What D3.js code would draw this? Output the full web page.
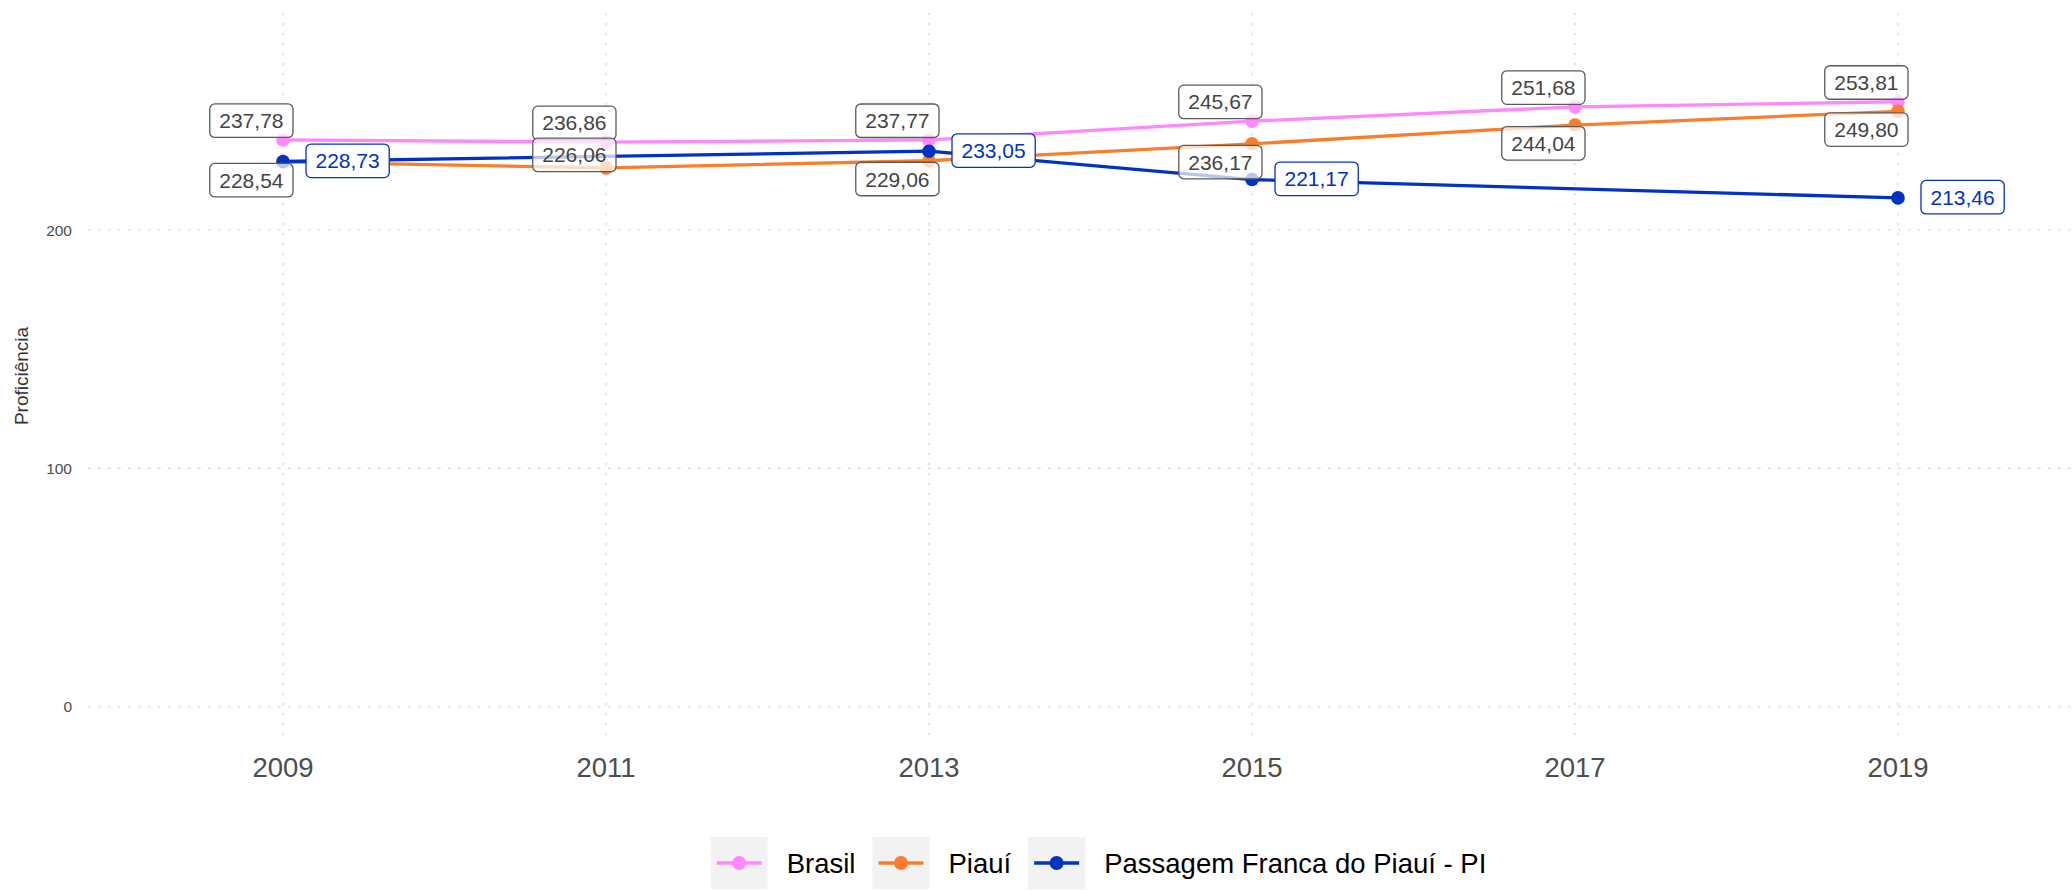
<!DOCTYPE html>
<html>
<head>
<meta charset="utf-8">
<script src="https://cdn.jsdelivr.net/npm/d3@7"></script>
<style>
  html, body { margin: 0; padding: 0; background: #ffffff; }
  svg { display: block; font-family: "Liberation Sans", Arial, Helvetica, sans-serif; }
</style>
</head>
<body>
<svg id="chart" width="2072" height="890"></svg>
<script>
// ---- data ----
const years = [2009, 2011, 2013, 2015, 2017, 2019];
const brasil = [237.78, 236.86, 237.77, 245.67, 251.68, 253.81];
const piaui = [228.54, 226.06, 229.06, 236.17, 244.04, 249.80];
const passagem = [228.73, null, 233.05, 221.17, null, 213.46];
const seriesNames = ["Brasil", "Piauí", "Passagem Franca do Piauí - PI"];
const yTicks = [0, 100, 200];
const xTicks = [2009, 2011, 2013, 2015, 2017, 2019];
const yTitle = "Proficiência";

// ---- style ----
const colors = ["#ff87ff", "#fb7d2b", "#0033c1"];
const W = 2072, H = 890;
const svg = d3.select("#chart");

const x = d3.scaleLinear().domain([2009, 2019]).range([283, 1898]);
const y = d3.scaleLinear().domain([0, 200]).range([706.7, 230]);
const panel = { left: 88, right: 2072, top: 13, bottom: 740 };

const gridColor = "#cfcfcf";
const textGrey = "#4d4d4d";

// grid
const g = svg.append("g");
g.selectAll("line.hgrid").data(yTicks).join("line")
  .attr("x1", panel.left).attr("x2", panel.right)
  .attr("y1", d => y(d)).attr("y2", d => y(d))
  .attr("stroke", gridColor).attr("stroke-width", 1.1)
  .attr("stroke-dasharray", "2.5,7.5");
g.selectAll("line.vgrid").data(xTicks).join("line")
  .attr("y1", panel.top).attr("y2", panel.bottom)
  .attr("x1", d => x(d)).attr("x2", d => x(d))
  .attr("stroke", gridColor).attr("stroke-width", 1.1)
  .attr("stroke-dasharray", "2.5,7.5");

// axes text
svg.append("g").selectAll("text").data(yTicks).join("text")
  .attr("x", 72).attr("y", d => y(d)).attr("dy", "0.36em")
  .attr("text-anchor", "end").attr("font-size", 15.5).attr("fill", textGrey)
  .text(d => d);
svg.append("g").selectAll("text").data(xTicks).join("text")
  .attr("x", d => x(d)).attr("y", 777)
  .attr("text-anchor", "middle").attr("font-size", 27.5).attr("fill", textGrey)
  .text(d => d);
svg.append("text")
  .attr("transform", "translate(28,376) rotate(-90)")
  .attr("text-anchor", "middle").attr("font-size", 19).attr("fill", "#333")
  .text(yTitle);

// series
const allSeries = [brasil, piaui, passagem].map((vals, i) => ({
  name: seriesNames[i], color: colors[i], idx: i,
  pts: years.map((yr, j) => ({ year: yr, v: vals[j] })).filter(p => p.v != null)
}));

const line = d3.line().x(p => x(p.year)).y(p => y(p.v));
svg.append("g").selectAll("path").data(allSeries).join("path")
  .attr("d", s => line(s.pts)).attr("fill", "none")
  .attr("stroke", s => s.color).attr("stroke-width", 3.3);

allSeries.forEach(s => {
  svg.append("g").selectAll("circle").data(s.pts).join("circle")
    .attr("cx", p => x(p.year)).attr("cy", p => y(p.v)).attr("r", 6.8)
    .attr("fill", s.color);
});

// labels
const fmt = v => d3.format(".2f")(v).replace(".", ",");
const boxH = 33.5, padX = 9.5;
const piauiAboveYears = [2011];
const labelLayer = svg.append("g");
function placeLabel(s, p) {
  const px = x(p.year), py = y(p.v);
  const grp = labelLayer.append("g");
  const isBlue = s.idx === 2;
  const t = grp.append("text").attr("font-size", 21)
    .attr("fill", isBlue ? colors[2] : "#444")
    .attr("text-anchor", "middle").text(fmt(p.v));
  const tw = t.node().getComputedTextLength();
  const bw = tw + 2 * padX;
  let cx, cy;
  if (s.idx === 0) { cx = px + 10 - bw / 2; cy = py - 2.5 - boxH / 2; }
  else if (s.idx === 1) {
    cx = px + 10 - bw / 2;
    cy = piauiAboveYears.includes(p.year) ? py - 13 : py + 1.5 + boxH / 2;
  } else { cx = px + 23 + bw / 2; cy = py - 0.7; }
  grp.insert("rect", "text")
    .attr("x", cx - bw / 2).attr("y", cy - boxH / 2)
    .attr("width", bw).attr("height", boxH).attr("rx", 5).attr("ry", 5)
    .attr("fill", "#ffffff").attr("fill-opacity", isBlue ? 1 : 0.72)
    .attr("stroke", isBlue ? colors[2] : "#5a5a5a").attr("stroke-width", 1.3);
  t.attr("x", cx).attr("y", cy).attr("dy", "0.36em");
}
allSeries.slice(0, 2).forEach(s => s.pts.forEach(p => placeLabel(s, p)));
allSeries[2].pts.forEach(p => placeLabel(allSeries[2], p));

// legend
const leg = svg.append("g");
const keyW = 57, keyH = 52, keyY = 837, gapKT = 19, gapTK = 17;
const items = allSeries.map(s => {
  const gi = leg.append("g");
  gi.append("rect").attr("width", keyW).attr("height", keyH).attr("y", keyY).attr("fill", "#f2f2f2");
  gi.append("line").attr("x1", 6).attr("x2", keyW - 6).attr("y1", keyY + keyH / 2).attr("y2", keyY + keyH / 2)
    .attr("stroke", s.color).attr("stroke-width", 3.3);
  gi.append("circle").attr("cx", keyW / 2).attr("cy", keyY + keyH / 2).attr("r", 7).attr("fill", s.color);
  const tx = gi.append("text").attr("x", keyW + gapKT).attr("y", keyY + keyH / 2).attr("dy", "0.36em")
    .attr("font-size", 27.5).attr("fill", "#000").text(s.name);
  return { gi, w: keyW + gapKT + tx.node().getComputedTextLength() };
});
const total = d3.sum(items, d => d.w) + gapTK * (items.length - 1);
let cur = 1098.5 - total / 2;
items.forEach(it => { it.gi.attr("transform", `translate(${cur},0)`); cur += it.w + gapTK; });
</script>
</body>
</html>
